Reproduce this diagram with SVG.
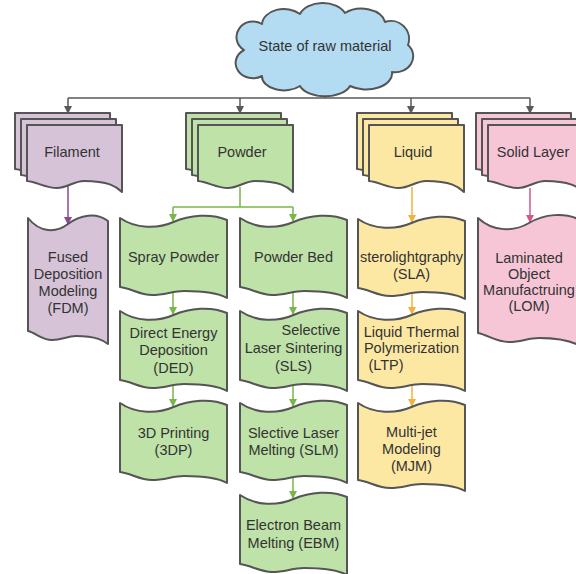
<svg xmlns="http://www.w3.org/2000/svg" width="576" height="574" viewBox="0 0 576 574">
<style>
text{font-family:"Liberation Sans",Arial,sans-serif;font-size:14.5px;fill:#333;text-anchor:middle}
.s{stroke:#555;stroke-width:2;stroke-linejoin:round}
.pu{fill:#d6c3d8}.gr{fill:#bfe2a8}.ye{fill:#fde8a3}.pk{fill:#f6c6d7}.bl{fill:#b3dcf3}
.c{fill:none;stroke-width:1.5}
</style>
<defs>
<marker id="ag" markerWidth="8" markerHeight="8" refX="7" refY="4" orient="auto" markerUnits="userSpaceOnUse"><path d="M0,0L8,4L0,8Z" fill="#595959"/></marker>
<marker id="ap" markerWidth="8" markerHeight="8" refX="7" refY="4" orient="auto" markerUnits="userSpaceOnUse"><path d="M0,0L8,4L0,8Z" fill="#8b4a8d"/></marker>
<marker id="agr" markerWidth="8" markerHeight="8" refX="7" refY="4" orient="auto" markerUnits="userSpaceOnUse"><path d="M0,0L8,4L0,8Z" fill="#7ab648"/></marker>
<marker id="ay" markerWidth="8" markerHeight="8" refX="7" refY="4" orient="auto" markerUnits="userSpaceOnUse"><path d="M0,0L8,4L0,8Z" fill="#f2b33d"/></marker>
<marker id="apk" markerWidth="8" markerHeight="8" refX="7" refY="4" orient="auto" markerUnits="userSpaceOnUse"><path d="M0,0L8,4L0,8Z" fill="#d5568a"/></marker>
<path id="doc" d="M0,0H95V67C90,62 82,56 57,56C47,56 40,63 30,63C19,63 10,57 0,56Z"/>
<path id="tape" d="M0,0C16,11 37.5,11 53.5,4C69.5,-3 91,-5 107,2L107,80C101.7,77 92,73 64.2,73C52.4,73 45,77 32.1,77C19.3,77 10.7,70 0,69Z"/>
<path id="tape2" d="M0,0C16,11 37.5,11 53.5,4C69.5,-3 91,-5 107,2L107,88C101.7,85 92,81 64.2,81C52.4,81 45,85 32.1,85C19.3,85 10.7,78 0,77Z"/>
</defs>

<g id="connectors">
<path class="c" stroke="#595959" d="M325,87V98M68,98H530"/>
<path class="c" stroke="#595959" d="M68,98V113" marker-end="url(#ag)"/>
<path class="c" stroke="#595959" d="M240,98V113" marker-end="url(#ag)"/>
<path class="c" stroke="#595959" d="M411,98V113" marker-end="url(#ag)"/>
<path class="c" stroke="#595959" d="M530,98V113" marker-end="url(#ag)"/>
<path class="c" stroke="#8b4a8d" d="M68,186V224" marker-end="url(#ap)"/>
<path class="c" stroke="#7ab648" d="M240,187V207M173,207H293"/>
<path class="c" stroke="#7ab648" d="M173,207V221" marker-end="url(#agr)"/>
<path class="c" stroke="#7ab648" d="M293,207V221" marker-end="url(#agr)"/>
<path class="c" stroke="#7ab648" d="M173,293V314" marker-end="url(#agr)"/>
<path class="c" stroke="#7ab648" d="M173,386V406" marker-end="url(#agr)"/>
<path class="c" stroke="#7ab648" d="M293,293V314" marker-end="url(#agr)"/>
<path class="c" stroke="#7ab648" d="M293,386V406" marker-end="url(#agr)"/>
<path class="c" stroke="#7ab648" d="M293,478V498" marker-end="url(#agr)"/>
<path class="c" stroke="#f2b33d" d="M412,187V222" marker-end="url(#ay)"/>
<path class="c" stroke="#f2b33d" d="M412,294V314" marker-end="url(#ay)"/>
<path class="c" stroke="#f2b33d" d="M412,386V406" marker-end="url(#ay)"/>
<path class="c" stroke="#d5568a" d="M530,188V222" marker-end="url(#apk)"/>
</g>

<g id="cloud">
<path class="s bl" d="M262,76A16,14 0 0 1 244,50A16,15 0 0 1 262,24A22,16 0 0 1 300,14A24,16 0 0 1 345,13A24,16 0 0 1 385,22A18,18 0 0 1 408,45A18,16 0 0 1 392,72A26,16 0 0 1 350,86A26,14 0 0 1 300,86A22,14 0 0 1 262,76Z"/>
<text x="325" y="51">State of raw material</text>
</g>

<g id="filament">
<use href="#doc" x="15" y="113" class="s pu"/>
<use href="#doc" x="21" y="119" class="s pu"/>
<use href="#doc" x="27" y="125" class="s pu"/>
<text x="72" y="157">Filament</text>
</g>
<g id="powder">
<use href="#doc" x="186" y="113" class="s gr"/>
<use href="#doc" x="192" y="119" class="s gr"/>
<use href="#doc" x="198" y="125" class="s gr"/>
<text x="242" y="157">Powder</text>
</g>
<g id="liquid">
<use href="#doc" x="357" y="113" class="s ye"/>
<use href="#doc" x="363" y="119" class="s ye"/>
<use href="#doc" x="369" y="125" class="s ye"/>
<text x="413" y="157">Liquid</text>
</g>
<g id="solid-layer">
<use href="#doc" x="476" y="113" class="s pk"/>
<use href="#doc" x="482" y="119" class="s pk"/>
<use href="#doc" x="488" y="125" class="s pk"/>
<text x="533" y="157">Solid Layer</text>
</g>

<g id="fdm">
<path class="s pu" transform="translate(28,218)" d="M0,0C12,15 28,15 40,6C52,-3 68,-6 80,3L80,126C76,123 69,118 48,118C39,118 34,122 24,122C14,122 8,115 0,113Z"/>
<text x="68" y="262">Fused</text><text x="68" y="279">Deposition</text><text x="68" y="296">Modeling</text><text x="68" y="313">(FDM)</text>
</g>
<g id="spray-powder">
<use href="#tape" x="120" y="218" class="s gr"/>
<text x="173.5" y="262">Spray Powder</text>
</g>
<g id="powder-bed">
<use href="#tape" x="240" y="218" class="s gr"/>
<text x="293.5" y="262">Powder Bed</text>
</g>
<g id="ded">
<use href="#tape" x="120" y="311" class="s gr"/>
<text x="173.5" y="338">Direct Energy</text><text x="173.5" y="355">Deposition</text><text x="173.5" y="373">(DED)</text>
</g>
<g id="sls">
<use href="#tape" x="240" y="311" class="s gr"/>
<text x="311" y="335">Selective</text><text x="293.5" y="353">Laser Sintering</text><text x="293.5" y="371">(SLS)</text>
</g>
<g id="3dp">
<use href="#tape" x="120" y="403" class="s gr"/>
<text x="173.5" y="438">3D Printing</text><text x="173.5" y="455">(3DP)</text>
</g>
<g id="slm">
<use href="#tape" x="240" y="403" class="s gr"/>
<text x="293.5" y="438">Slective Laser</text><text x="293.5" y="455">Melting (SLM)</text>
</g>
<g id="ebm">
<use href="#tape" x="240" y="495" class="s gr"/>
<text x="293.5" y="530">Electron Beam</text><text x="293.5" y="548">Melting (EBM)</text>
</g>
<g id="sla">
<use href="#tape" x="358" y="219" class="s ye"/>
<text x="411.5" y="262">sterolightgraphy</text><text x="411.5" y="279">(SLA)</text>
</g>
<g id="ltp">
<use href="#tape" x="358" y="311" class="s ye"/>
<text x="411.5" y="337">Liquid Thermal</text><text x="411.5" y="353">Polymerization</text><text x="386" y="370">(LTP)</text>
</g>
<g id="mjm">
<use href="#tape2" x="358" y="403" class="s ye"/>
<text x="411.5" y="437">Multi-jet</text><text x="411.5" y="454">Modeling</text><text x="411.5" y="471">(MJM)</text>
</g>
<g id="lom">
<path class="s pk" transform="translate(478,218)" d="M0,0C15,14 36,14 51,5C66,-4 87,-6 102,2L102,128C97,125 88,120 61,120C50,120 43,124 31,124C18,124 10,117 0,115Z"/>
<text x="529" y="263">Laminated</text><text x="529" y="279">Object</text><text x="529" y="295">Manufactruing</text><text x="529" y="311">(LOM)</text>
</g>
</svg>
